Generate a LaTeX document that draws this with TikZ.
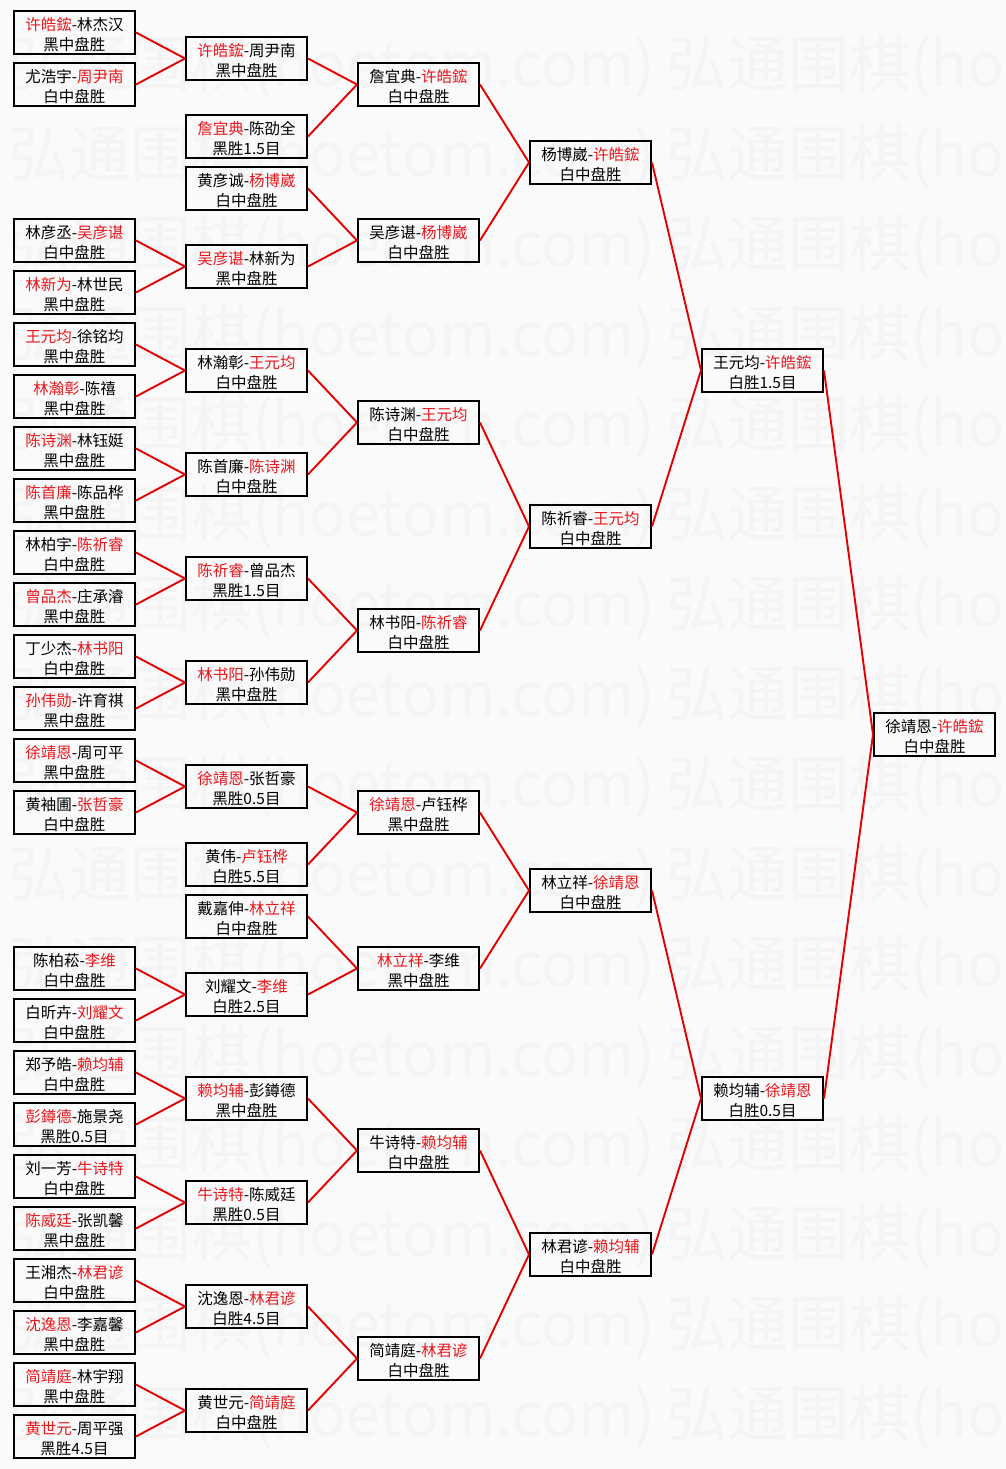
\documentclass[tikz,border=0pt]{standalone}
\usepackage{fontspec}
\setmainfont{Noto Sans CJK SC}
\definecolor{win}{RGB}{232,24,30}
\definecolor{lnk}{RGB}{226,0,0}
\definecolor{wmk}{RGB}{244,244,244}
\definecolor{bg}{RGB}{250,250,250}
\newcommand\w[1]{\textcolor{win}{#1}}
\newcommand\gm[4]{\node[game] (#1) at ({74.5+172*#2},{#3+22.5}) {};
  \node[gtext] (#1t) at ([yshift=-2.5pt]#1.center) {#4};}
\begin{document}
\begin{tikzpicture}[x=1pt,y=-1pt,
 game/.style={draw=black,line width=2pt,minimum width=121pt,minimum height=43pt,inner sep=0pt},
 gtext/.style={inner sep=0pt,align=center,font=\fontsize{15.5}{20}\selectfont,text=black},
 link/.style={draw=lnk,line width=1.9pt},
 wm/.style={anchor=west,text=wmk,font=\fontsize{61}{61}\selectfont,inner sep=0pt}]
\useasboundingbox (0,0) rectangle (1006,1469);
\fill[bg] (0,0) rectangle (1006,1469);
\begin{scope}
\clip (0,0) rectangle (1006,1469);
\foreach \r in {0,...,15} {
  \node[wm] (wmA\r) at (8,{67+90*\r}) {弘通围棋(hoetom.com)};
  \node[wm] (wmB\r) at (666,{67+90*\r}) {弘通围棋(hoetom.com)};
}
\end{scope}
% round 1
\gm{a0}{0}{10}{\w{许皓鋐}-林杰汉\\黑中盘胜}
\gm{a1}{0}{62}{尤浩宇-\w{周尹南}\\白中盘胜}
\gm{a4}{0}{218}{林彦丞-\w{吴彦谌}\\白中盘胜}
\gm{a5}{0}{270}{\w{林新为}-林世民\\黑中盘胜}
\gm{a6}{0}{322}{\w{王元均}-徐铭均\\黑中盘胜}
\gm{a7}{0}{374}{\w{林瀚彰}-陈禧\\黑中盘胜}
\gm{a8}{0}{426}{\w{陈诗渊}-林钰娗\\黑中盘胜}
\gm{a9}{0}{478}{\w{陈首廉}-陈品桦\\黑中盘胜}
\gm{a10}{0}{530}{林柏宇-\w{陈祈睿}\\白中盘胜}
\gm{a11}{0}{582}{\w{曾品杰}-庄承濬\\黑中盘胜}
\gm{a12}{0}{634}{丁少杰-\w{林书阳}\\白中盘胜}
\gm{a13}{0}{686}{\w{孙伟勋}-许育祺\\黑中盘胜}
\gm{a14}{0}{738}{\w{徐靖恩}-周可平\\黑中盘胜}
\gm{a15}{0}{790}{黄袖圃-\w{张哲豪}\\白中盘胜}
\gm{a18}{0}{946}{陈柏菘-\w{李维}\\白中盘胜}
\gm{a19}{0}{998}{白昕卉-\w{刘耀文}\\白中盘胜}
\gm{a20}{0}{1050}{郑予皓-\w{赖均辅}\\白中盘胜}
\gm{a21}{0}{1102}{\w{彭鐏德}-施景尧\\黑胜0.5目}
\gm{a22}{0}{1154}{刘一芳-\w{牛诗特}\\白中盘胜}
\gm{a23}{0}{1206}{\w{陈威廷}-张凯馨\\黑中盘胜}
\gm{a24}{0}{1258}{王湘杰-\w{林君谚}\\白中盘胜}
\gm{a25}{0}{1310}{\w{沈逸恩}-李嘉馨\\黑中盘胜}
\gm{a26}{0}{1362}{\w{简靖庭}-林宇翔\\黑中盘胜}
\gm{a27}{0}{1414}{\w{黄世元}-周平强\\黑胜4.5目}
% round 2
\gm{b1}{1}{36}{\w{许皓鋐}-周尹南\\黑中盘胜}
\gm{b2}{1}{114}{\w{詹宜典}-陈劭全\\黑胜1.5目}
\gm{b3}{1}{166}{黄彦诚-\w{杨博崴}\\白中盘胜}
\gm{b4}{1}{244}{\w{吴彦谌}-林新为\\黑中盘胜}
\gm{b5}{1}{348}{林瀚彰-\w{王元均}\\白中盘胜}
\gm{b6}{1}{452}{陈首廉-\w{陈诗渊}\\白中盘胜}
\gm{b7}{1}{556}{\w{陈祈睿}-曾品杰\\黑胜1.5目}
\gm{b8}{1}{660}{\w{林书阳}-孙伟勋\\黑中盘胜}
\gm{b9}{1}{764}{\w{徐靖恩}-张哲豪\\黑胜0.5目}
\gm{b10}{1}{842}{黄伟-\w{卢钰桦}\\白胜5.5目}
\gm{b11}{1}{894}{戴嘉伸-\w{林立祥}\\白中盘胜}
\gm{b12}{1}{972}{刘耀文-\w{李维}\\白胜2.5目}
\gm{b13}{1}{1076}{\w{赖均辅}-彭鐏德\\黑中盘胜}
\gm{b14}{1}{1180}{\w{牛诗特}-陈威廷\\黑胜0.5目}
\gm{b15}{1}{1284}{沈逸恩-\w{林君谚}\\白胜4.5目}
\gm{b16}{1}{1388}{黄世元-\w{简靖庭}\\白中盘胜}
% round 3
\gm{c1}{2}{62}{詹宜典-\w{许皓鋐}\\白中盘胜}
\gm{c2}{2}{218}{吴彦谌-\w{杨博崴}\\白中盘胜}
\gm{c3}{2}{400}{陈诗渊-\w{王元均}\\白中盘胜}
\gm{c4}{2}{608}{林书阳-\w{陈祈睿}\\白中盘胜}
\gm{c5}{2}{790}{\w{徐靖恩}-卢钰桦\\黑中盘胜}
\gm{c6}{2}{946}{\w{林立祥}-李维\\黑中盘胜}
\gm{c7}{2}{1128}{牛诗特-\w{赖均辅}\\白中盘胜}
\gm{c8}{2}{1336}{简靖庭-\w{林君谚}\\白中盘胜}
% round 4
\gm{d1}{3}{140}{杨博崴-\w{许皓鋐}\\白中盘胜}
\gm{d2}{3}{504}{陈祈睿-\w{王元均}\\白中盘胜}
\gm{d3}{3}{868}{林立祥-\w{徐靖恩}\\白中盘胜}
\gm{d4}{3}{1232}{林君谚-\w{赖均辅}\\白中盘胜}
% round 5
\gm{e1}{4}{348}{王元均-\w{许皓鋐}\\白胜1.5目}
\gm{e2}{4}{1076}{赖均辅-\w{徐靖恩}\\白胜0.5目}
% final
\gm{f1}{5}{712}{徐靖恩-\w{许皓鋐}\\白中盘胜}
% connectors
\foreach \s/\t in {a0/b1,a1/b1,a4/b4,a5/b4,a6/b5,a7/b5,a8/b6,a9/b6,a10/b7,a11/b7,a12/b8,a13/b8,a14/b9,a15/b9,a18/b12,a19/b12,a20/b13,a21/b13,a22/b14,a23/b14,a24/b15,a25/b15,a26/b16,a27/b16,
  b1/c1,b2/c1,b3/c2,b4/c2,b5/c3,b6/c3,b7/c4,b8/c4,b9/c5,b10/c5,b11/c6,b12/c6,b13/c7,b14/c7,b15/c8,b16/c8,
  c1/d1,c2/d1,c3/d2,c4/d2,c5/d3,c6/d3,c7/d4,c8/d4,
  d1/e1,d2/e1,d3/e2,d4/e2,
  e1/f1,e2/f1}
  \draw[link] (\s.east) -- (\t.west);
\end{tikzpicture}
\end{document}
